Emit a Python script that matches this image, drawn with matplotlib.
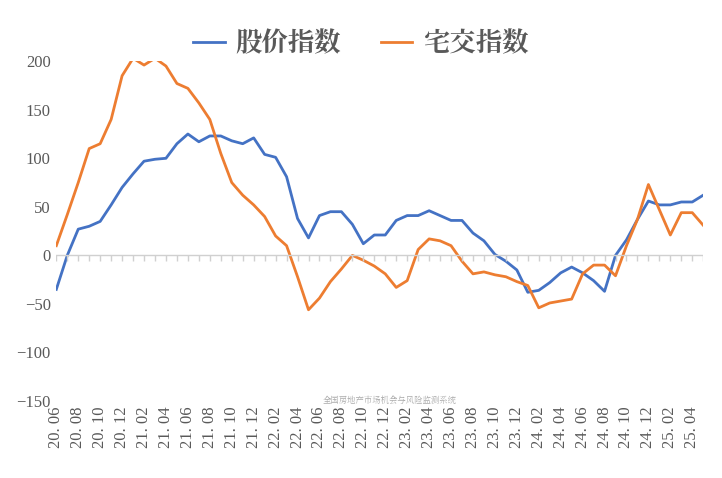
import matplotlib.pyplot as plt
from matplotlib import font_manager
import numpy as np

# monthly data 20.06 - 25.05
months = [f"{y:02d}.{m:02d}" for y in range(20, 26) for m in range(1, 13)][5:65]
stock_index = [-35, 0, 27, 30, 35, 52, 70, 84, 97, 99,
               100, 115, 125, 117, 123, 123, 118, 115, 121, 104,
               101, 81, 38, 18, 41, 45, 45, 32, 12, 21,
               21, 36, 41, 41, 46, 41, 36, 36, 23, 15,
               1, -6, -15, -38, -36, -28, -18, -12, -18, -26,
               -37, 0, 16, 37, 56, 52, 52, 55, 55, 62]
house_index = [10, 42, 75, 110, 115, 140, 185, 203, 196, 203,
               195, 177, 172, 157, 140, 105, 75, 62, 52, 40,
               20, 10, -22, -56, -44, -27, -14, 0, -5, -11,
               -19, -33, -26, 6, 17, 15, 10, -6, -19, -17,
               -20, -22, -27, -31, -54, -49, -47, -45, -19, -10,
               -10, -21, 10, 37, 73, 47, 21, 44, 44, 31]

cjk = [f.name for f in font_manager.fontManager.ttflist if 'CJK' in f.name]
cjk_font = 'Noto Sans CJK SC' if 'Noto Sans CJK SC' in cjk else (cjk[0] if cjk else 'DejaVu Sans')

fig = plt.figure(figsize=(7.22, 4.78), dpi=100)
ax = fig.add_axes([0.078, 0.161, 0.896, 0.711])
x = np.arange(len(months))

ax.plot(x, stock_index, color='#4472C4', lw=2, label='股价指数')
ax.plot(x, house_index, color='#ED7D31', lw=2, label='宅交指数')

ax.set_xlim(0, len(months) - 1)
ax.set_ylim(-150, 200)
ax.set_yticks(range(-150, 201, 50))
ax.axhline(0, color='#D0D0D0', lw=1)
ax.vlines(x, -6, 0, color='#D0D0D0', lw=1)
for s in ax.spines.values():
    s.set_visible(False)

ax.set_xticks(x[::2])
ax.set_xticklabels([m.replace('.', '. ') for m in months[::2]], rotation=90,
                   family='Liberation Serif', fontsize=12, color='#595959')
ax.tick_params(length=0, pad=4)
for lbl in ax.get_yticklabels():
    lbl.set_family('Liberation Serif')
    lbl.set_fontsize(12)
    lbl.set_color('#595959')

leg = fig.legend(loc='upper center', bbox_to_anchor=(0.5, 0.99), ncol=2, frameon=False,
                 prop={'family': cjk_font, 'size': 19, 'weight': 'bold'}, handlelength=1.2,
                 handletextpad=0.4, columnspacing=1.5)
for t in leg.get_texts():
    t.set_color('#595959')

fig.text(0.54, 0.163, '全国房地产市场机会与风险监测系统', ha='center', va='center',
         fontsize=6, color='#AAAAAA', family=cjk_font)

fig.savefig('out.png', dpi=100)
